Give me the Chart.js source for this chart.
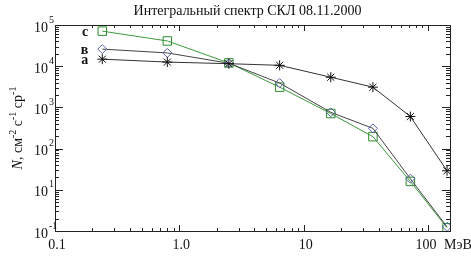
<!DOCTYPE html>
<html>
<head>
<meta charset="utf-8">
<script src="https://cdn.jsdelivr.net/npm/chart.js@4.4.1/dist/chart.umd.min.js"></script>
<style>
    body { margin: 0; background: #fff; }
    #wrap { width: 471px; height: 257px; }
</style>
</head>
<body>
<div id="wrap"><canvas id="spectrum" width="471" height="257"></canvas></div>
<script>
// energies, MeV
var energies = [0.24, 0.8, 2.5, 6.4, 16.5, 36, 72, 142];
// integral fluxes for the three curves
var seriesA = [14800, 12600, 11500, 10500, 5400, 3100, 600, 29];
var seriesB = [26000, 21000, 11800, 3900, 760, 310, 18.6, 1.26];
var seriesC = [71000, 41000, 12000, 3100, 710, 195, 16, 1.2];
var seriesNames = ['а', 'в', 'c'];

var xTickValues = [0.1, 1, 10, 100];
var xTickLabels = ['0.1', '1.0', '10', '100'];
var yTickValues = [1e5, 1e4, 1e3, 1e2, 1e1, 1];
var yTickExps = ['5', '4', '3', '2', '1', '-1'];

var chartTitle = 'Интегральный спектр СКЛ 08.11.2000';
var serif = '"Liberation Serif", "DejaVu Serif", serif';

function toPoints(values) {
    return energies.map(function (e, i) { return { x: e, y: values[i] }; });
}

// frame, inward ticks, labels drawn with the chart's scales
var framePlugin = {
    id: 'frame',
    afterDraw: function (chart) {
        var ctx = chart.ctx;
        var area = chart.chartArea;
        var xs = chart.scales.x;
        var ys = chart.scales.y;
        ctx.save();
        ctx.strokeStyle = '#222';
        ctx.lineWidth = 1;
        ctx.strokeRect(Math.round(area.left) + 0.5, Math.round(area.top) + 0.5,
            Math.round(area.right - area.left), Math.round(area.bottom - area.top));

        ctx.beginPath();
        // x ticks
        for (var d = -1; d <= 2; d++) {
            for (var m = 1; m <= 9; m++) {
                var v = m * Math.pow(10, d);
                if (v < xs.min || v > xs.max) continue;
                var px = Math.round(xs.getPixelForValue(v)) + 0.5;
                var len = m === 1 ? 6 : 3;
                ctx.moveTo(px, area.bottom); ctx.lineTo(px, area.bottom - len);
                ctx.moveTo(px, area.top); ctx.lineTo(px, area.top + len);
            }
        }
        // y ticks
        for (var e = 0; e <= 5; e++) {
            for (var k = 1; k <= 9; k++) {
                var w = k * Math.pow(10, e);
                if (w < ys.min || w > ys.max) continue;
                var py = Math.round(ys.getPixelForValue(w)) + 0.5;
                var l = k === 1 ? 8 : 4;
                ctx.moveTo(area.left, py); ctx.lineTo(area.left + l, py);
                ctx.moveTo(area.right, py); ctx.lineTo(area.right - l, py);
            }
        }
        ctx.stroke();

        ctx.fillStyle = '#111';
        // x labels
        ctx.font = '14px ' + serif;
        ctx.textAlign = 'center';
        ctx.textBaseline = 'middle';
        xTickValues.forEach(function (v, i) {
            var shift = i === xTickValues.length - 1 ? -2 : 2;
            ctx.fillText(xTickLabels[i], xs.getPixelForValue(v) + shift, area.bottom + 14);
        });
        ctx.textAlign = 'left';
        ctx.fillText('МэВ', area.right - 6, area.bottom + 14);

        // y labels 10^n
        yTickValues.forEach(function (v, i) {
            var py = ys.getPixelForValue(v);
            ctx.font = '14px ' + serif;
            ctx.textAlign = 'right';
            ctx.fillText('10', area.left - 7, py + 3);
            ctx.font = '10px ' + serif;
            ctx.textAlign = 'left';
            ctx.fillText(yTickExps[i], area.left - 6, py - 5);
        });

        // title
        ctx.font = '14px ' + serif;
        ctx.textAlign = 'center';
        ctx.fillText(chartTitle, (area.left + area.right) / 2 - 5, 11);

        // series letters beside first points
        ctx.font = 'bold 14px ' + serif;
        ctx.textAlign = 'right';
        chart.data.datasets.forEach(function (ds, i) {
            var pt = chart.getDatasetMeta(i).data[0];
            ctx.fillText(seriesNames[i], pt.x - 14, pt.y + 1);
        });

        // y axis title
        ctx.translate(18, (area.top + area.bottom) / 2);
        ctx.rotate(-Math.PI / 2);
        ctx.textAlign = 'left';
        var parts = [
            ['italic 14px ', 'N', 0], ['14px ', ', см', 0], ['10px ', '-2', -5],
            ['14px ', ' c', 0], ['10px ', '-1', -5], ['14px ', ' ср', 0], ['10px ', '-1', -5]
        ];
        var total = 0;
        parts.forEach(function (p) { ctx.font = p[0] + serif; total += ctx.measureText(p[1]).width; });
        var cx = -total / 2;
        parts.forEach(function (p) {
            ctx.font = p[0] + serif;
            ctx.fillText(p[1], cx, p[2]);
            cx += ctx.measureText(p[1]).width;
        });
        ctx.restore();
    }
};

var ctx = document.getElementById('spectrum').getContext('2d');
var spectrumChart = new Chart(ctx, {
    type: 'scatter',
    data: {
        datasets: [{
            label: 'а',
            data: toPoints(seriesA),
            showLine: true,
            borderColor: '#333',
            borderWidth: 1,
            pointStyle: 'star',
            pointRadius: 5,
            pointBorderColor: '#111',
            pointBackgroundColor: 'rgba(0,0,0,0)',
            pointBorderWidth: 1
        }, {
            label: 'в',
            data: toPoints(seriesB),
            showLine: true,
            borderColor: '#444',
            borderWidth: 1,
            pointStyle: 'rectRot',
            pointRadius: 4.5,
            pointBorderColor: '#5866a8',
            pointBackgroundColor: 'rgba(0,0,0,0)',
            pointBorderWidth: 1
        }, {
            label: 'c',
            data: toPoints(seriesC),
            showLine: true,
            borderColor: '#3c9a3c',
            borderWidth: 1,
            pointStyle: 'rect',
            pointRadius: 6,
            pointBorderColor: '#2e8b2e',
            pointBackgroundColor: 'rgba(0,0,0,0)',
            pointBorderWidth: 1
        }]
    },
    options: {
        responsive: false,
        animation: false,
        layout: { padding: { left: 55, top: 25, right: 21, bottom: 26 } },
        plugins: {
            legend: { display: false },
            tooltip: { enabled: false }
        },
        scales: {
            x: { type: 'logarithmic', min: 0.1, max: 150, display: false },
            y: { type: 'logarithmic', min: 1, max: 1e5, display: false }
        }
    },
    plugins: [framePlugin]
});
</script>
</body>
</html>
